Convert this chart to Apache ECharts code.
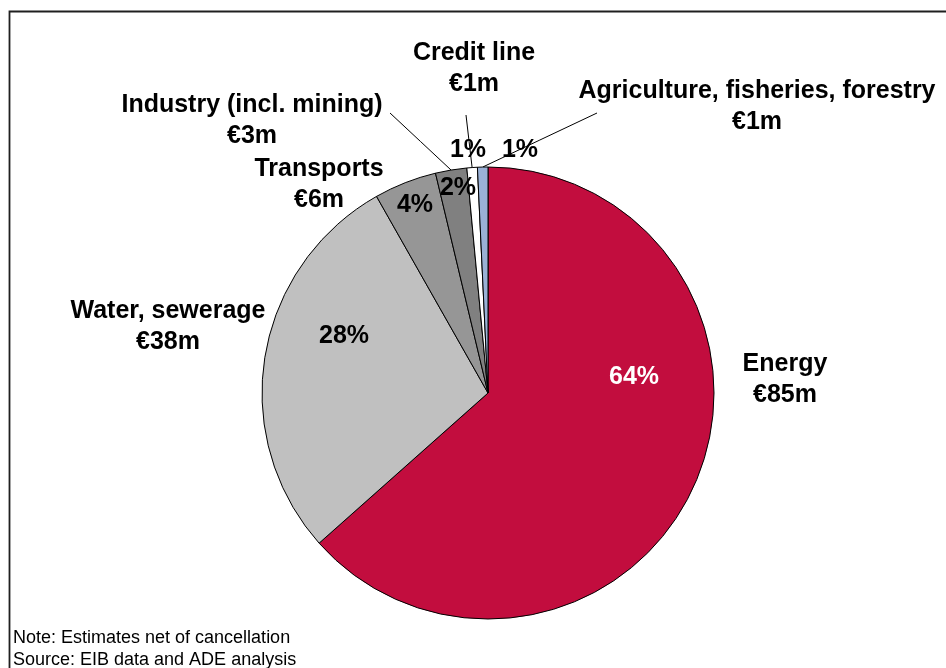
<!DOCTYPE html>
<html>
<head>
<meta charset="utf-8">
<script src="https://cdn.jsdelivr.net/npm/echarts@6/dist/echarts.min.js"></script>
<style>
  html, body { margin: 0; padding: 0; background: #fff; }
  #chart { width: 946px; height: 668px; }
</style>
</head>
<body>
<div id="chart"></div>
<script>
// Sector breakdown of signed loans (EUR million)
const sectors = ['Energy', 'Water, sewerage', 'Transports', 'Industry (incl. mining)', 'Credit line', 'Agriculture, fisheries, forestry'];
const amounts = [85, 38, 6, 3, 1, 1];
const shareLabels = ['64%', '28%', '4%', '2%', '1%', '1%'];
const notes = ['Note: Estimates net of cancellation', 'Source: EIB data and ADE analysis'];

const sliceColors = ['#C20D3E', '#C0C0C0', '#969696', '#808080', '#FFFFFF', '#9AB1D6'];
const FONT = '"Liberation Sans", Arial, sans-serif';

// Label anchors (centre of each text block) and leader-line ends
const nameLabelPos = [[785, 380], [168, 327], [319, 185], [252, 121], [474, 69], [757, 107]];
const shareLabelPos = [[634, 377], [344, 336], [415, 205], [458, 188], [468, 150], [520, 150]];
const leaderEnds = [null, null, null, [390, 113], [466, 115], [597, 113]];

const PIE_CENTER = [488, 393];
const PIE_RADIUS = 226;

const chart = echarts.init(document.getElementById('chart'), null, { renderer: 'canvas' });

const nameData = sectors.map((s, i) => ({
  name: s,
  value: amounts[i],
  itemStyle: { color: sliceColors[i] },
  labelLine: { show: leaderEnds[i] !== null }
}));

const shareData = sectors.map((s, i) => ({
  name: s,
  value: amounts[i],
  label: { color: i === 0 ? '#FFFFFF' : '#000000' }
}));

chart.setOption({
  animation: false,
  backgroundColor: '#FFFFFF',
  graphic: [
    {
      type: 'rect',
      shape: { x: 9.5, y: 11.5, width: 1200, height: 1200 },
      style: { fill: 'none', stroke: '#1f1f1f', lineWidth: 1.8 },
      silent: true
    },
    {
      type: 'text',
      left: 13,
      top: 627,
      style: {
        text: notes.join('\n'),
        font: '18px ' + FONT,
        fill: '#000',
        lineHeight: 22
      },
      silent: true
    }
  ],
  series: [
    {
      type: 'pie',
      center: PIE_CENTER,
      radius: PIE_RADIUS,
      startAngle: 90,
      clockwise: true,
      avoidLabelOverlap: false,
      silent: true,
      data: nameData,
      itemStyle: { borderColor: '#000', borderWidth: 1 },
      label: {
        show: true,
        position: 'outside',
        formatter: p => p.name + '\n€' + p.value + 'm',
        fontFamily: FONT,
        fontWeight: 'bold',
        fontSize: 25,
        lineHeight: 31,
        color: '#000',
        align: 'center'
      },
      labelLine: {
        show: true,
        length: 20,
        length2: 10,
        lineStyle: { color: '#000', width: 1 }
      },
      labelLayout: params => {
        const i = params.dataIndex;
        const out = {
          x: nameLabelPos[i][0],
          y: nameLabelPos[i][1],
          align: 'center',
          verticalAlign: 'middle'
        };
        if (leaderEnds[i] && params.labelLinePoints) {
          const a = params.labelLinePoints[0];
          const b = leaderEnds[i];
          out.labelLinePoints = [a, [(a[0] + b[0]) / 2, (a[1] + b[1]) / 2], b];
        }
        return out;
      }
    },
    {
      type: 'pie',
      center: PIE_CENTER,
      radius: PIE_RADIUS,
      startAngle: 90,
      clockwise: true,
      avoidLabelOverlap: false,
      silent: true,
      data: shareData,
      itemStyle: { color: 'rgba(0,0,0,0)', borderWidth: 0 },
      label: {
        show: true,
        position: 'inside',
        formatter: p => shareLabels[p.dataIndex],
        fontFamily: FONT,
        fontWeight: 'bold',
        fontSize: 25,
        textBorderWidth: 0
      },
      labelLine: { show: false },
      labelLayout: params => ({
        x: shareLabelPos[params.dataIndex][0],
        y: shareLabelPos[params.dataIndex][1],
        align: 'center',
        verticalAlign: 'middle'
      })
    }
  ]
});
</script>
</body>
</html>
